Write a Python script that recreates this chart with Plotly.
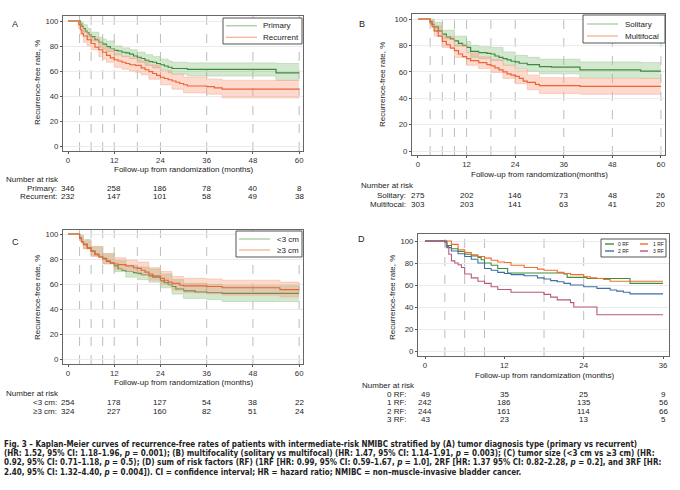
import plotly.graph_objects as go

W, H = 680, 490
FONT = "Liberation Sans, Arial, sans-serif"

# %% Data (survival in %, time in months)

# Panel A - tumor diagnosis type
a_primary_t = [0, 2.8, 3.2, 3.6, 4, 4.5, 5, 5.5, 6, 7, 8, 9, 10, 11, 12, 13, 14, 15, 16, 17, 18, 19, 20, 21, 22, 23, 24, 25, 26, 27, 31, 54, 60]
a_primary_s = [100, 100, 97.5, 95.5, 94, 92, 90.5, 89, 87.5, 85, 83, 81.5, 79.5, 78, 76.5, 76, 75, 74.5, 73.5, 72, 71, 70, 68.5, 67.5, 67, 66, 65, 64, 63, 62, 61.3, 58.5, 58.5]
a_primary_ci_t = [0, 2.8, 3.2, 4, 5, 6, 8, 9, 10, 12, 14, 16, 18, 20, 22, 24, 26, 27, 31, 54, 60]
a_primary_hi = [100, 100, 99, 97, 94, 91, 87, 85.5, 84, 80, 78.5, 77, 75, 73, 71.5, 69.5, 68, 67, 66.5, 66, 66]
a_primary_lo = [100, 100, 96, 91, 87, 84, 79, 77.5, 75.5, 73, 71.5, 70, 67, 64.5, 62.5, 61, 58.5, 57.5, 56, 52.5, 52.5]

a_recurrent_t = [0, 2.4, 2.8, 3.2, 3.6, 4, 5, 6, 7, 8, 9, 10, 11, 12, 13, 14, 15, 16, 17.5, 19, 20, 21, 22, 23, 24, 25, 26, 27, 28, 29, 30, 31, 36, 38, 40, 60]
a_recurrent_s = [100, 100, 97, 93, 90, 88, 85, 82, 79, 77, 75, 72.5, 70.5, 69, 68, 67, 66, 65, 64.5, 62.5, 61, 59.5, 58, 56.5, 55, 54, 53, 52, 51, 50, 49, 48, 47.5, 46.5, 45.5, 45.5]
a_recurrent_ci_t = [0, 2.4, 2.8, 3.2, 4, 5, 6, 8, 9, 10, 12, 14, 16, 17.5, 19, 21, 24, 27, 30, 36, 40, 60]
a_recurrent_hi = [100, 100, 99, 97, 93, 90, 87, 83, 80.5, 78, 74, 72, 70.5, 70, 68, 65, 60.5, 57.5, 55, 53.5, 52.5, 52.5]
a_recurrent_lo = [100, 100, 94, 89, 83, 80, 77, 71.5, 69.5, 67, 63, 61.5, 60, 59, 57, 53.5, 49, 45.5, 42.5, 41.5, 38.5, 38]

# Panel B - multifocality
b_solitary_t = [0, 2.5, 3, 3.5, 4, 5, 6, 7, 8, 9, 10, 11, 12, 13, 15, 17, 18, 19, 20, 21, 22, 23, 24, 25, 27, 30, 33, 40, 55, 60]
b_solitary_s = [100, 100, 98, 96, 94, 91, 88.5, 86.5, 85, 83.5, 81.5, 80, 78.5, 75.5, 74.5, 74, 73.5, 72, 71, 70, 69, 68, 67.5, 66.5, 65.5, 64, 63.5, 61.5, 60.5, 60.5]
b_solitary_ci_t = [0, 2.5, 3, 4, 6, 9, 12, 13, 15, 18, 21, 24, 27, 30, 40, 55, 60]
b_solitary_hi = [100, 100, 100, 97.5, 91.5, 87, 83, 80, 79, 78.5, 75, 72.5, 71, 69.5, 67.5, 67, 67]
b_solitary_lo = [100, 100, 96, 90.5, 85, 79.5, 74.5, 71, 70, 68.5, 65, 62.5, 60.5, 58.5, 55.5, 55, 55]

b_multifocal_t = [0, 2.5, 3, 3.5, 4, 5, 6, 7, 8, 9, 10, 11, 12, 13, 15, 17, 18, 19, 20, 21, 22, 23, 24, 25, 26, 27, 29, 30, 40, 60]
b_multifocal_s = [100, 100, 97, 94, 91, 87, 83, 80.5, 78, 76, 73.5, 71.5, 70, 68.5, 67, 65.5, 64.5, 63, 61.5, 60, 58.5, 57.5, 56.5, 55, 53, 52, 50.5, 49.5, 49, 49]
b_multifocal_ci_t = [0, 2.5, 3, 4, 6, 9, 12, 15, 18, 21, 24, 27, 30, 40, 60]
b_multifocal_hi = [100, 100, 99, 95, 87, 80.5, 74.5, 71.5, 69.5, 65, 61.5, 57.5, 55.5, 55, 55]
b_multifocal_lo = [100, 100, 95, 87, 78.5, 71, 65, 62.5, 59.5, 55, 51, 46.5, 43.5, 43, 43]

# Panel C - tumor size
c_small_t = [0, 2.5, 3, 3.5, 4, 5, 6, 7, 8, 9, 10, 11, 12, 13, 14, 15, 17, 18, 19, 21, 22, 24, 25, 26, 27, 28, 30, 33, 36, 40, 60]
c_small_s = [100, 100, 97, 94, 92, 89, 86.5, 84, 82, 80.5, 78, 76.5, 74.5, 72, 71, 70, 69, 68.5, 67.5, 66.5, 65.5, 62.5, 61, 59.5, 58, 56, 54.5, 53.5, 53, 52.5, 52.5]
c_small_ci_t = [0, 2.5, 3, 4, 6, 9, 12, 15, 18, 21, 24, 27, 30, 36, 40, 60]
c_small_hi = [100, 100, 99, 95.5, 90, 84.5, 78.5, 75, 73.5, 72, 68, 63.5, 60.5, 59.5, 58.5, 58.5]
c_small_lo = [100, 100, 95, 88.5, 82.5, 76.5, 70, 65.5, 63.5, 61.5, 57, 52, 48.5, 47.5, 46, 46]

c_large_t = [0, 2.5, 3, 3.5, 4, 5, 6, 7, 8, 9, 10, 11, 12, 13, 15, 17, 18, 19, 20, 21, 22, 24, 25, 26, 27, 29, 30, 36, 40, 55, 60]
c_large_s = [100, 100, 96.5, 93.5, 91.5, 88.5, 86, 83.5, 81.5, 80, 78.5, 77, 76, 75.5, 74.5, 73, 72.5, 71, 69.5, 68, 66.5, 64.5, 63, 61.5, 60.5, 59, 58.5, 58, 57, 55.5, 55.5]
c_large_ci_t = [0, 2.5, 3, 4, 6, 9, 12, 15, 18, 21, 24, 27, 30, 36, 40, 55, 60]
c_large_hi = [100, 100, 98.5, 94.5, 90, 84, 81, 79, 77.5, 73, 70, 66, 64.5, 64, 63, 61.5, 61.5]
c_large_lo = [100, 100, 94.5, 88, 82, 76, 71.5, 70, 67.5, 63, 59.5, 55, 53, 52, 51, 49.5, 49.5]

# Panel D - sum of risk factors
d_rf0_t = [0, 3, 3.3, 4, 5, 6, 7, 8, 8.5, 9, 10, 11, 12.5, 21, 21.5, 24.5, 31, 36]
d_rf0_s = [100, 100, 96, 93, 90.5, 88, 86.5, 85, 83, 80, 78, 75, 71, 70, 67, 66, 61.5, 61.5]
d_rf1_t = [0, 3.5, 4, 5, 6, 7, 8, 9, 10, 11, 12, 13, 15, 17, 18, 20, 21, 22, 24, 25, 26, 27, 28, 36]
d_rf1_s = [100, 100, 97, 92, 89.5, 87.5, 86, 84.5, 82.5, 81, 80.5, 78, 76, 74.5, 73.5, 71.5, 70.5, 69.5, 67.5, 66.5, 66, 65, 63.5, 63.5]
d_rf2_t = [0, 3, 3.3, 4, 5, 6, 7, 8, 9, 10, 11, 12, 13, 15, 17, 18, 19, 20, 21, 22, 24, 26, 28, 29, 30, 31, 36]
d_rf2_s = [100, 99, 94, 91, 88.5, 86, 83.5, 80, 75, 73.5, 71.5, 70.5, 69.5, 68.5, 66.5, 65.5, 64, 63, 61.5, 60, 58.5, 57, 55.5, 54.5, 53.5, 52, 52]
d_rf3_t = [0, 3, 3.2, 3.6, 4, 4.5, 5, 5.5, 6, 7, 8, 9, 10, 11, 13, 18, 19, 20, 22, 22.5, 25.5, 26, 36]
d_rf3_s = [100, 100, 95, 88, 82, 80, 78.5, 76, 70, 66.5, 63.5, 61.5, 58.5, 56, 53.5, 51.5, 49, 46.5, 44, 40, 40, 33, 33]

# Number at risk
months_60 = [0, 12, 24, 36, 48, 60]
months_36 = [0, 12, 24, 36]
risk_primary = [346, 258, 186, 78, 40, 8]
risk_recurrent = [232, 147, 101, 58, 49, 38]
risk_solitary = [275, 202, 146, 73, 48, 26]
risk_multifocal = [303, 203, 141, 63, 41, 20]
risk_small = [254, 178, 127, 54, 38, 22]
risk_large = [324, 227, 160, 82, 51, 24]
risk_rf0 = [49, 35, 25, 9]
risk_rf1 = [242, 186, 135, 56]
risk_rf2 = [244, 161, 114, 66]
risk_rf3 = [43, 23, 13, 5]

y_ticks = [0, 20, 40, 60, 80, 100]
visit_lines_60 = [3, 6, 9, 12, 18, 24, 36, 48, 60]
visit_lines_36 = [3, 6, 9, 18, 24]

caption_lines = [
    "Fig. 3 – Kaplan-Meier curves of recurrence-free rates of patients with intermediate-risk NMIBC stratified by (A) tumor diagnosis type (primary vs recurrent)",
    "(HR: 1.52, 95% CI: 1.18–1.96, <i>p</i> = 0.001); (B) multifocality (solitary vs multifocal) (HR: 1.47, 95% CI: 1.14–1.91, <i>p</i> = 0.003); (C) tumor size (&lt;3 cm vs ≥3 cm) (HR:",
    "0.92, 95% CI: 0.71–1.18, <i>p</i> = 0.5); (D) sum of risk factors (RF) (1RF [HR: 0.99, 95% CI: 0.59–1.67, <i>p</i> = 1.0], 2RF [HR: 1.37 95% CI: 0.82–2.28, <i>p</i> = 0.2], and 3RF [HR:",
    "2.40, 95% CI: 1.32–4.40, <i>p</i> = 0.004]). CI = confidence interval; HR = hazard ratio; NMIBC = non–muscle-invasive bladder cancer.",
]

GREEN, GREEN_FILL, GREEN_PALE = "#3b8a3e", "rgba(120,185,110,0.32)", "#a9d3a3"
ORANGE, ORANGE_FILL, ORANGE_PALE = "#ec6535", "rgba(248,140,105,0.33)", "#f7b79f"
D_COLORS = ["#3c8f3c", "#f26c2c", "#3d6fa5", "#b85a7c"]


def px(x):
    return x / W


def py(y):
    return 1 - y / H


fig = go.Figure()


def add_group(ax, t, s, ci_t, lo, hi, line_col, fill_col, pale_col):
    xa, ya = ("x", "y") if ax == 1 else ("x%d" % ax, "y%d" % ax)
    fig.add_trace(go.Scatter(x=ci_t, y=lo, mode="lines", line=dict(color=pale_col, width=0.6, shape="hv"),
                             xaxis=xa, yaxis=ya, showlegend=False, hoverinfo="skip"))
    fig.add_trace(go.Scatter(x=ci_t, y=hi, mode="lines", line=dict(color=pale_col, width=0.6, shape="hv"),
                             fill="tonexty", fillcolor=fill_col, xaxis=xa, yaxis=ya, showlegend=False,
                             hoverinfo="skip"))
    fig.add_trace(go.Scatter(x=t, y=s, mode="lines", line=dict(color=line_col, width=1.2, shape="hv"),
                             xaxis=xa, yaxis=ya, showlegend=False))


# CI bands + curves
add_group(1, a_primary_t, a_primary_s, a_primary_ci_t, a_primary_lo, a_primary_hi, GREEN, GREEN_FILL, GREEN_PALE)
add_group(1, a_recurrent_t, a_recurrent_s, a_recurrent_ci_t, a_recurrent_lo, a_recurrent_hi, ORANGE, ORANGE_FILL, ORANGE_PALE)
add_group(2, b_solitary_t, b_solitary_s, b_solitary_ci_t, b_solitary_lo, b_solitary_hi, GREEN, GREEN_FILL, GREEN_PALE)
add_group(2, b_multifocal_t, b_multifocal_s, b_multifocal_ci_t, b_multifocal_lo, b_multifocal_hi, ORANGE, ORANGE_FILL, ORANGE_PALE)
add_group(3, c_small_t, c_small_s, c_small_ci_t, c_small_lo, c_small_hi, GREEN, GREEN_FILL, GREEN_PALE)
add_group(3, c_large_t, c_large_s, c_large_ci_t, c_large_lo, c_large_hi, ORANGE, ORANGE_FILL, ORANGE_PALE)

for (t, s), col in zip([(d_rf0_t, d_rf0_s), (d_rf1_t, d_rf1_s), (d_rf2_t, d_rf2_s), (d_rf3_t, d_rf3_s)], D_COLORS):
    fig.add_trace(go.Scatter(x=t, y=s, mode="lines", line=dict(color=col, width=1.1, shape="hv"),
                             xaxis="x4", yaxis="y4", showlegend=False))

# %% Axes: (frame px box, x range, y range)
panels = {
    1: dict(box=(63, 16, 303, 151), xr=[-1.3, 61.0], yr=[-4, 104], xt=months_60),
    2: dict(box=(412, 14, 665, 155), xr=[-1.48, 61.0], yr=[-3, 103.8], xt=months_60),
    3: dict(box=(63, 230, 303, 364), xr=[-1.3, 61.0], yr=[-4, 103.2], xt=months_60),
    4: dict(box=(418, 234, 669, 356), xr=[-1.06, 36.9], yr=[-4.5, 106.4], xt=months_36),
}
axis_common = dict(showline=True, linecolor="#666", linewidth=1, mirror=True, ticks="outside", ticklen=2,
                   tickcolor="#555", tickfont=dict(size=7.8, color="#333", family=FONT), zeroline=False)
for k, p in panels.items():
    x0, y0, x1, y1 = p["box"]
    sx = "" if k == 1 else str(k)
    fig.layout["xaxis" + sx] = dict(axis_common, domain=[px(x0), px(x1)], range=p["xr"], tickvals=p["xt"],
                                    showgrid=False, anchor="y" + sx)
    fig.layout["yaxis" + sx] = dict(axis_common, domain=[py(y1), py(y0)], range=p["yr"], tickvals=y_ticks,
                                    showgrid=True, gridcolor="#ebebeb", gridwidth=1, anchor="x" + sx)

# dashed visit lines
shapes = []
for k in [1, 2, 3]:
    sx = "" if k == 1 else str(k)
    for m in visit_lines_60:
        shapes.append(dict(type="line", xref="x" + sx, yref="y%s domain" % sx, x0=m, x1=m, y0=0, y1=1,
                           line=dict(color="#bdbdbd", width=1, dash="dash"), layer="below"))
for m in visit_lines_36:
    shapes.append(dict(type="line", xref="x4", yref="y4 domain", x0=m, x1=m, y0=0, y1=1,
                       line=dict(color="#bdbdbd", width=1, dash="dash"), layer="below"))

annotations = []


def text(x, y, s, size=8, xanchor="left", xref="paper", angle=0, color="#222", family=FONT):
    annotations.append(dict(x=x, y=y, xref=xref, yref="paper", text=s, showarrow=False, xanchor=xanchor,
                            yanchor="middle", textangle=angle, font=dict(size=size, color=color, family=family)))


# manual legends: box (px), rows of (label, colour, line x0, line x1, text x, y)
def legend(box, rows, size=8):
    x0, y0, x1, y1 = box
    shapes.append(dict(type="rect", xref="paper", yref="paper", x0=px(x0), x1=px(x1), y0=py(y1), y1=py(y0),
                       line=dict(color="#555", width=1), fillcolor="white"))
    for lab, col, lx0, lx1, tx, ty in rows:
        shapes.append(dict(type="line", xref="paper", yref="paper", x0=px(lx0), x1=px(lx1), y0=py(ty), y1=py(ty),
                           line=dict(color=col, width=1.4)))
        text(px(tx), py(ty), lab, size=size)


legend((223, 18, 302, 44), [("Primary", GREEN_PALE, 226, 257, 261, 25.7), ("Recurrent", ORANGE_PALE, 226, 257, 261, 37.3)])
legend((583, 15, 665, 43), [("Solitary", GREEN_PALE, 587, 618, 623, 24), ("Multifocal", ORANGE_PALE, 587, 618, 623, 36)])
legend((236, 231, 302, 257), [("&lt;3 cm", GREEN_PALE, 239, 270, 275, 239), ("≥3 cm", ORANGE_PALE, 239, 270, 275, 250)])
legend((601, 239, 666, 257), [("0 RF", D_COLORS[0], 605, 614, 616, 244), ("1 RF", D_COLORS[1], 640, 648, 651, 244),
                              ("2 RF", D_COLORS[2], 605, 614, 616, 251), ("3 RF", D_COLORS[3], 640, 648, 651, 251)], size=5)

# panel letters
for lab, x, y in [("A", 15, 24), ("B", 362, 24), ("C", 15, 242), ("D", 361, 239)]:
    text(px(x), py(y), lab, size=9, xanchor="center")

# axis titles
ytitle = "Recurrence-free rate, %"
for x, y in [(37, 83), (383, 85), (37, 298), (392, 297)]:
    text(px(x), py(y), ytitle, angle=-90, xanchor="center")
for s, x, y in [("Follow-up from randomization (months)", 183.5, 169),
                ("Follow-up from randomization(months)", 539.7, 174.5),
                ("Follow-up from randomization (months)", 183.5, 382.5),
                ("Follow-up from randomization (months)", 544.7, 375)]:
    text(px(x), py(y), s, xanchor="center")


# number-at-risk tables (counts sit under the x ticks, labels right-aligned in px)
def risk_table(ax, head_xy, rows, months, label_px):
    sx = "" if ax == 1 else str(ax)
    text(px(head_xy[0]), py(head_xy[1]), "Number at risk")
    for lab, vals, y in rows:
        text(px(label_px), py(y), lab, xanchor="right")
        for m, v in zip(months, vals):
            text(m, py(y), str(v), xanchor="center", xref="x" + sx)


risk_table(1, (4, 180), [("Primary:", risk_primary, 188.5), ("Recurrent:", risk_recurrent, 197)], months_60, 59)
risk_table(2, (359, 185), [("Solitary:", risk_solitary, 195), ("Multifocal:", risk_multifocal, 204.5)], months_60, 408)
risk_table(3, (4, 393), [("&lt;3 cm:", risk_small, 402), ("≥3 cm:", risk_large, 411)], months_60, 59)
risk_table(4, (360, 385), [("0 RF:", risk_rf0, 394), ("1 RF:", risk_rf1, 402.5), ("2 RF:", risk_rf2, 411),
                           ("3 RF:", risk_rf3, 419.5)], months_36, 409)

# caption
for i, line in enumerate(caption_lines):
    text(px(2), py(444 + i * 9.4), "<b>" + line + "</b>", size=8.0,
         family="Liberation Sans Narrow, DejaVu Sans Condensed, sans-serif")

fig.update_layout(width=W, height=H, margin=dict(l=0, r=0, t=0, b=0), plot_bgcolor="white",
                  paper_bgcolor="white", showlegend=False, shapes=shapes, annotations=annotations,
                  font=dict(family=FONT, size=8, color="#222"))

fig.write_html("out.html", config={"displayModeBar": False},
               post_script="document.body.style.margin='0';")
